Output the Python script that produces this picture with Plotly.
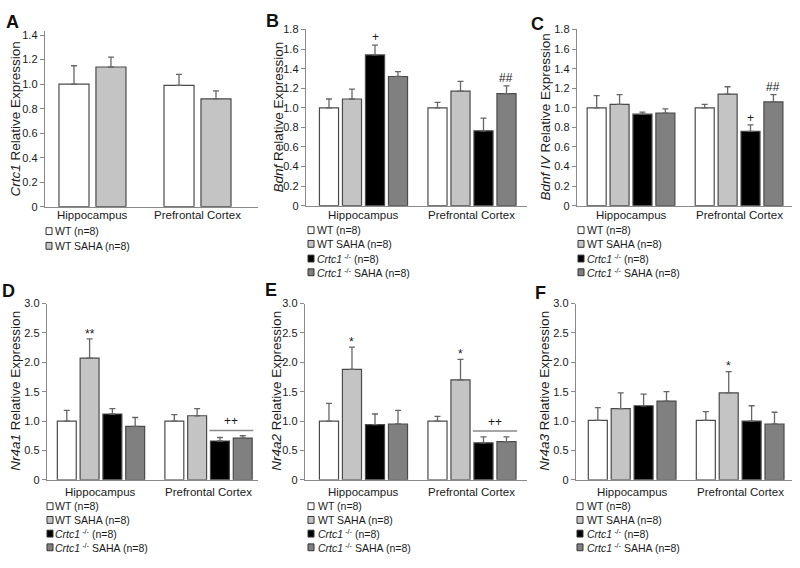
import plotly.graph_objects as go

# ---------------- data ----------------
categories = ["Hippocampus", "Prefrontal Cortex"]
group_labels = ["WT (n=8)", "WT SAHA (n=8)",
                "<i>Crtc1</i><sup> -/-</sup> (n=8)",
                "<i>Crtc1</i><sup> -/-</sup> SAHA (n=8)"]

# A - Crtc1
a_wt = [1.00, 0.99]
a_wt_sem = [0.15, 0.09]
a_saha = [1.14, 0.88]
a_saha_sem = [0.08, 0.065]

# B - Bdnf
b_wt = [1.00, 1.00]
b_wt_sem = [0.09, 0.055]
b_saha = [1.09, 1.17]
b_saha_sem = [0.10, 0.10]
b_ko = [1.54, 0.765]
b_ko_sem = [0.10, 0.13]
b_kosaha = [1.32, 1.145]
b_kosaha_sem = [0.05, 0.08]

# C - Bdnf IV
c_wt = [1.00, 1.00]
c_wt_sem = [0.125, 0.035]
c_saha = [1.035, 1.14]
c_saha_sem = [0.10, 0.075]
c_ko = [0.935, 0.76]
c_ko_sem = [0.02, 0.065]
c_kosaha = [0.945, 1.06]
c_kosaha_sem = [0.045, 0.075]

# D - Nr4a1
d_wt = [1.00, 1.00]
d_wt_sem = [0.18, 0.11]
d_saha = [2.07, 1.09]
d_saha_sem = [0.33, 0.12]
d_ko = [1.12, 0.66]
d_ko_sem = [0.09, 0.06]
d_kosaha = [0.91, 0.71]
d_kosaha_sem = [0.15, 0.04]

# E - Nr4a2
e_wt = [1.00, 1.00]
e_wt_sem = [0.30, 0.08]
e_saha = [1.88, 1.70]
e_saha_sem = [0.38, 0.35]
e_ko = [0.94, 0.63]
e_ko_sem = [0.18, 0.10]
e_kosaha = [0.95, 0.65]
e_kosaha_sem = [0.23, 0.08]

# F - Nr4a3
f_wt = [1.01, 1.01]
f_wt_sem = [0.22, 0.15]
f_saha = [1.21, 1.48]
f_saha_sem = [0.27, 0.36]
f_ko = [1.26, 1.00]
f_ko_sem = [0.20, 0.26]
f_kosaha = [1.34, 0.95]
f_kosaha_sem = [0.16, 0.20]

# significance marks: (panel, category index, group index, text, y)
sig_marks = [
    ("B", 0, 2, "+", 1.72), ("B", 1, 3, "##", 1.30),
    ("C", 1, 2, "+", 0.90), ("C", 1, 3, "##", 1.21),
    ("D", 0, 1, "**", 2.53),
    ("E", 0, 1, "*", 2.40), ("E", 1, 1, "*", 2.20),
    ("F", 1, 1, "*", 1.98),
]
# bracket lines "++" : (panel, category index, y of line)
bracket_marks = [("D", 1, 0.84), ("E", 1, 0.83)]

y_titles = {"A": "<i>Crtc1</i> Relative Expression",
            "B": "<i>Bdnf</i> Relative Expression",
            "C": "<i>Bdnf IV</i> Relative Expression",
            "D": "<i>Nr4a1</i> Relative Expression",
            "E": "<i>Nr4a2</i> Relative Expression",
            "F": "<i>Nr4a3</i> Relative Expression"}

ticks_small = [0, 0.2, 0.4, 0.6, 0.8, 1.0, 1.2, 1.4]
ticks_mid = [0, 0.2, 0.4, 0.6, 0.8, 1.0, 1.2, 1.4, 1.6, 1.8]
ticks_big = [0, 0.5, 1.0, 1.5, 2.0, 2.5, 3.0]

# ---------------- styling / layout ----------------
W, H = 800, 568
FONT = "Liberation Sans, Arial, sans-serif"
TXT = "#1a1a1a"
fills = ["#ffffff", "#c4c4c4", "#000000", "#808080"]
edge = "#4a4a4a"


def px(x):
    return x / W


def py(y):
    return 1 - y / H


panels = {
    "A": dict(idx=1, series=[(a_wt, a_wt_sem), (a_saha, a_saha_sem)],
              box=(45, 258, 26, 205), xr=[-0.452, 1.576], yr=[0, 1.43], ticks=ticks_small,
              slot=0.352, bw=0.286, leg=(46, 53, [230, 245]), letter=(12, 16),
              ytitle=(16, 116), caty=214),
    "B": dict(idx=2, series=[(b_wt, b_wt_sem), (b_saha, b_saha_sem), (b_ko, b_ko_sem), (b_kosaha, b_kosaha_sem)],
              box=(306, 527, 24, 204), xr=[-0.53, 1.507], yr=[0, 1.8], ticks=ticks_mid,
              slot=0.212, bw=0.176, leg=(308, 315, [229, 243, 258, 272]), letter=(272, 15),
              ytitle=(279, 114), caty=214),
    "C": dict(idx=3, series=[(c_wt, c_wt_sem), (c_saha, c_saha_sem), (c_ko, c_ko_sem), (c_kosaha, c_kosaha_sem)],
              box=(577, 792, 24, 204), xr=[-0.5, 1.49], yr=[0, 1.8], ticks=ticks_mid,
              slot=0.212, bw=0.176, leg=(578, 585, [229, 243, 258, 272]), letter=(537, 18),
              ytitle=(546, 114), caty=214),
    "D": dict(idx=4, series=[(d_wt, d_wt_sem), (d_saha, d_saha_sem), (d_ko, d_ko_sem), (d_kosaha, d_kosaha_sem)],
              box=(47, 258, 304, 484), xr=[-0.502, 1.46], yr=[0, 3.0], ticks=ticks_big,
              slot=0.212, bw=0.176, leg=(47, 53, [511, 525, 539, 553]), letter=(8, 291),
              ytitle=(16, 393), caty=496),
    "E": dict(idx=5, series=[(e_wt, e_wt_sem), (e_saha, e_saha_sem), (e_ko, e_ko_sem), (e_kosaha, e_kosaha_sem)],
              box=(305, 527, 304, 484), xr=[-0.539, 1.507], yr=[0, 3.0], ticks=ticks_big,
              slot=0.212, bw=0.176, leg=(308, 316, [511, 525, 539, 553]), letter=(271, 290),
              ytitle=(277, 393), caty=496),
    "F": dict(idx=6, series=[(f_wt, f_wt_sem), (f_saha, f_saha_sem), (f_ko, f_ko_sem), (f_kosaha, f_kosaha_sem)],
              box=(576, 792, 304, 484), xr=[-0.52, 1.48], yr=[0, 3.0], ticks=ticks_big,
              slot=0.212, bw=0.176, leg=(577, 585, [511, 525, 539, 553]), letter=(540, 293),
              ytitle=(545, 393), caty=496),
}

fig = go.Figure()
layout = dict(width=W, height=H, margin=dict(l=0, r=0, t=0, b=0),
              paper_bgcolor="white", plot_bgcolor="white", showlegend=False,
              font=dict(family=FONT, color=TXT))
annotations = []
shapes = []


def bar_center(p, gi):
    n = len(p["series"])
    return (gi - (n - 1) / 2) * p["slot"]


for name, p in panels.items():
    i = p["idx"]
    xa = "x" if i == 1 else f"x{i}"
    ya = "y" if i == 1 else f"y{i}"
    xk = "xaxis" if i == 1 else f"xaxis{i}"
    yk = "yaxis" if i == 1 else f"yaxis{i}"
    x0, x1, ytop, ybot = p["box"]
    for gi, (vals, sem) in enumerate(p["series"]):
        c = bar_center(p, gi)
        fig.add_trace(go.Bar(
            x=categories, y=vals, xaxis=xa, yaxis=ya,
            width=p["bw"], offset=c - p["bw"] / 2,
            marker=dict(color=fills[gi], line=dict(color=edge, width=1.2)),
            error_y=dict(type="data", symmetric=False, array=sem, arrayminus=[0] * len(sem),
                         color="#666666", thickness=1.3, width=3),
            name=group_labels[gi]))
    layout[xk] = dict(domain=[px(x0), px(x1)], anchor=ya, type="category",
                      range=p["xr"], showline=True, linecolor="#8a8a8a", linewidth=1.3,
                      ticks="", showgrid=False, zeroline=False, fixedrange=True,
                      showticklabels=False)
    layout[yk] = dict(domain=[py(ybot), py(ytop)], anchor=xa, range=p["yr"],
                      showline=True, linecolor="#8a8a8a", linewidth=1.3,
                      ticks="outside", ticklen=4, tickcolor="#8a8a8a", tickwidth=1,
                      tickvals=p["ticks"],
                      ticktext=["0" if t == 0 else f"{t:.1f}" for t in p["ticks"]],
                      showgrid=False, zeroline=False, fixedrange=True,
                      tickfont=dict(size=11, family=FONT, color=TXT))
    # category labels
    for ci, cat in enumerate(categories):
        annotations.append(dict(text=cat, x=ci, y=py(p["caty"]), xref=xa, yref="paper",
                                showarrow=False, xanchor="center", yanchor="middle",
                                font=dict(size=11.5, family=FONT, color=TXT)))
    # panel letter
    lx, ly = p["letter"]
    annotations.append(dict(text=f"<b>{name}</b>", x=px(lx), y=py(ly), xref="paper", yref="paper",
                            showarrow=False, xanchor="center", yanchor="middle",
                            font=dict(size=18, family=FONT, color="#111111")))
    # y title
    tx, ty = p["ytitle"]
    annotations.append(dict(text=y_titles[name], x=px(tx), y=py(ty), xref="paper", yref="paper",
                            showarrow=False, textangle=-90, xanchor="center", yanchor="middle",
                            font=dict(size=13.5, family=FONT, color=TXT)))
    # legend
    bx, tx2, rows = p["leg"]
    for gi, ry in enumerate(rows):
        shapes.append(dict(type="rect", xref="paper", yref="paper",
                           x0=px(bx), x1=px(bx + 6), y0=py(ry + 3.5), y1=py(ry - 3.5),
                           fillcolor=fills[gi], line=dict(color="#333333", width=1)))
        annotations.append(dict(text=group_labels[gi], x=px(tx2), y=py(ry), xref="paper", yref="paper",
                                showarrow=False, xanchor="left", yanchor="middle",
                                font=dict(size=10.5, family=FONT, color=TXT)))

# significance marks
for name, ci, gi, txt, yv in sig_marks:
    p = panels[name]
    i = p["idx"]
    xa = "x" if i == 1 else f"x{i}"
    ya = "y" if i == 1 else f"y{i}"
    annotations.append(dict(text=txt, x=ci + bar_center(p, gi), y=yv, xref=xa, yref=ya,
                            showarrow=False, xanchor="center", yanchor="middle",
                            yshift=-3 if "*" in txt else 0,
                            font=dict(size=12, family=FONT, color=TXT)))

for name, ci, yv in bracket_marks:
    p = panels[name]
    i = p["idx"]
    xa = f"x{i}"
    ya = f"y{i}"
    xl = ci + bar_center(p, 2) - p["bw"] / 2 - 0.01
    xr = ci + bar_center(p, 3) + p["bw"] / 2 + 0.01
    shapes.append(dict(type="line", xref=xa, yref=ya, x0=xl, x1=xr, y0=yv, y1=yv,
                       line=dict(color="#8a8a8a", width=1.6)))
    annotations.append(dict(text="++", x=(xl + xr) / 2, y=yv, xref=xa, yref=ya,
                            showarrow=False, xanchor="center", yanchor="bottom", yshift=0,
                            font=dict(size=12, family=FONT, color=TXT)))

layout["annotations"] = annotations
layout["shapes"] = shapes
layout["barmode"] = "overlay"
fig.update_layout(**layout)
fig.write_html("out.html",
               config={"displayModeBar": False, "staticPlot": True},
               post_script="document.body.style.margin='0';document.body.style.overflow='hidden';")
